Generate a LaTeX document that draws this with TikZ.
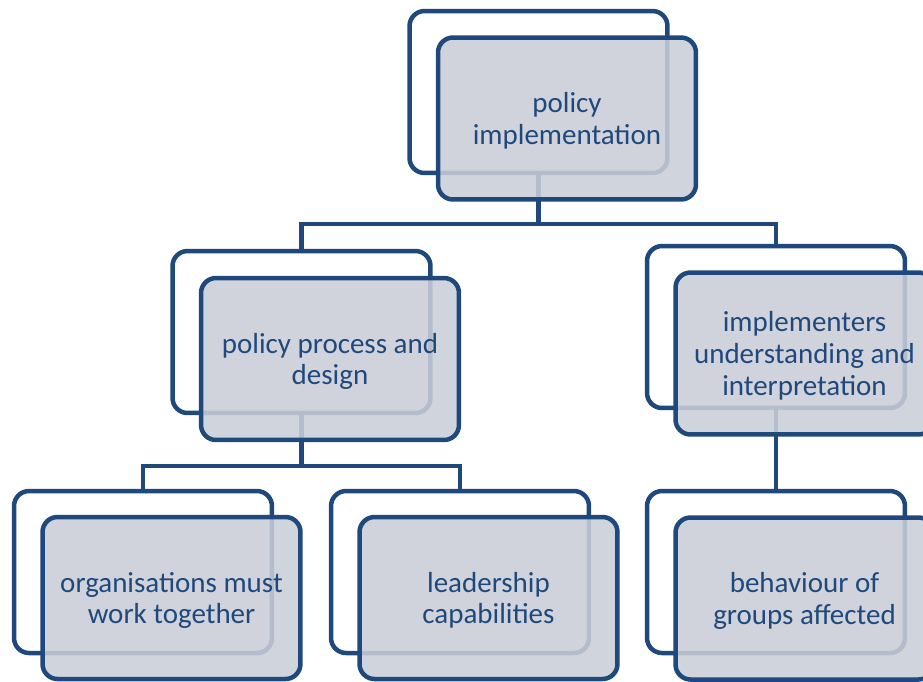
\documentclass[tikz,border=0pt]{standalone}
\usepackage{fontspec}
\setmainfont{Carlito}
\definecolor{navy}{HTML}{1F497D}
\definecolor{panel}{RGB}{202,206,215}
\begin{document}
\begin{tikzpicture}[x=0.02cm,y=-0.02cm,
  back/.style={draw=navy, line width=0.09cm, rounded corners=0.3cm, fill=white,
    minimum width=5.16cm, minimum height=3.24cm, inner sep=0pt},
  front/.style={back, fill=panel, fill opacity=0.88, text opacity=1, text=navy,
    align=center, text depth=0pt, font=\fontsize{16.5pt}{18.1pt}\selectfont},
  link/.style={draw=navy, line width=0.09cm}]
\useasboundingbox (0,0) rectangle (923,681);
\clip (0,0) rectangle (923,681);

% rear frames
\node[back] (rootback) at (538.5,92) {};
\node[back] (designback) at (301.5,332) {};
\node[back] (implback) at (776,327) {};
\node[back] (orgback) at (143,572) {};
\node[back] (leadback) at (460,572) {};
\node[back] (behavback) at (776,572) {};

% connectors
\coordinate (j1) at (538.5,224);
\coordinate (j2) at (301.5,466);
\draw[link] (rootback.south) -- (j1) -| (designback.north);
\draw[link] (j1) -| (implback.north);
\draw[link] (designback.south) -- (j2) -| (orgback.north);
\draw[link] (j2) -| (leadback.north);
\draw[link] (implback.south) -- (behavback.north);

% front panels with labels
\node[front] (root) at (567,118.5) {policy\\implementation};
\node[front] (design) at (330,359) {policy process and\\design};
\node[front] (impl) at (804.5,353.5) {implementers\\understanding and\\interpretation};
\node[front] (org) at (171.5,598) {organisations must\\work together};
\node[front] (lead) at (488.5,598) {leadership\\capabilities};
\node[front] (behav) at (804.5,598.5) {behaviour of\\groups affected};
\end{tikzpicture}
\end{document}
